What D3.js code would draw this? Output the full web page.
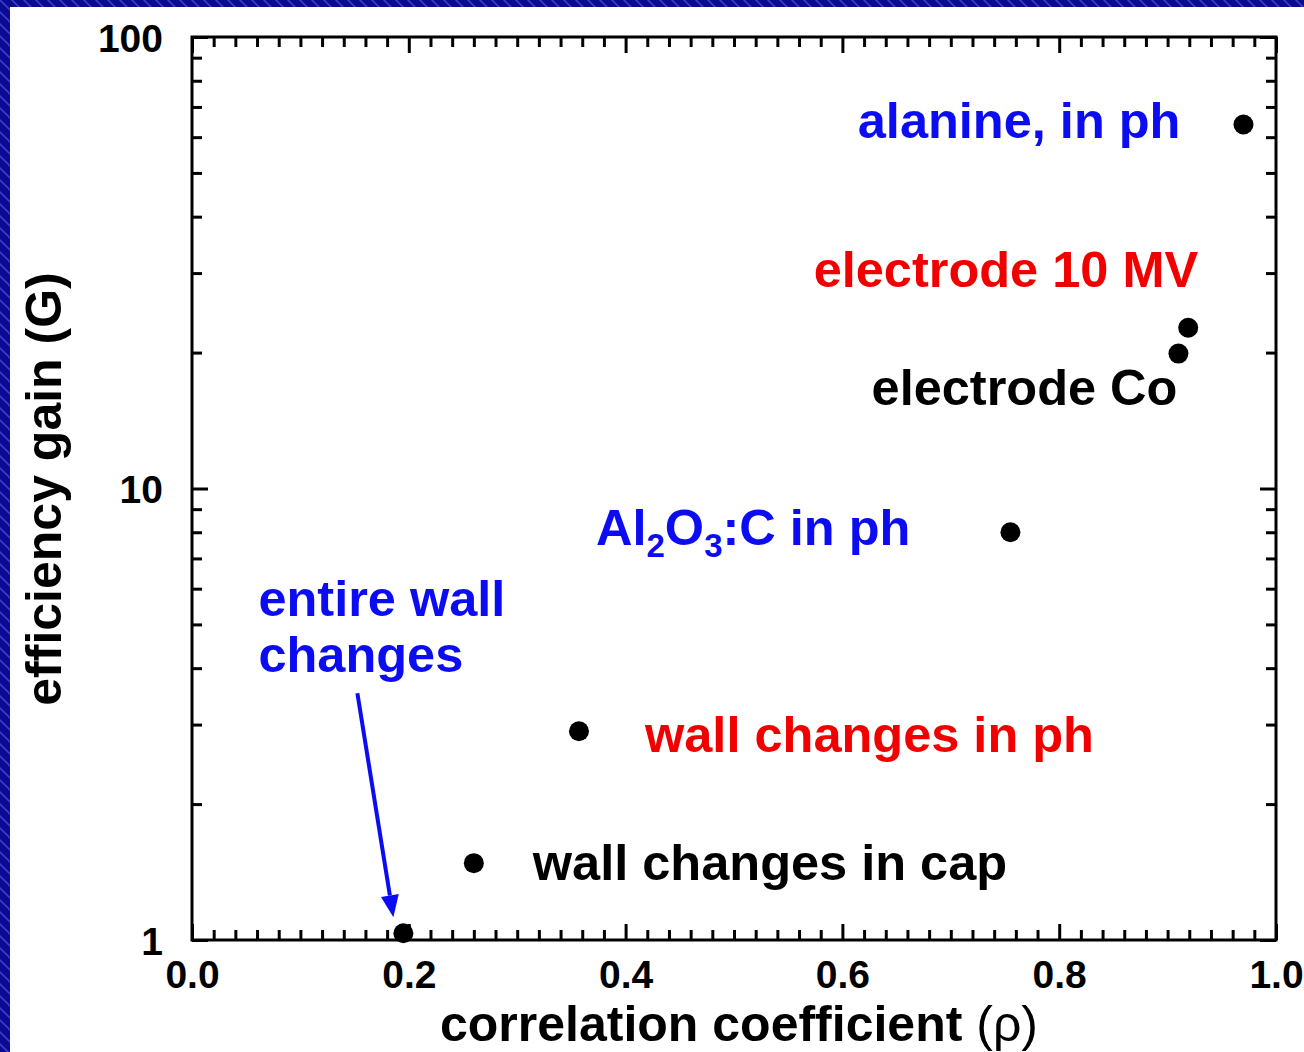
<!DOCTYPE html>
<html>
<head>
<meta charset="utf-8">
<script src="https://cdn.jsdelivr.net/npm/d3@7"></script>
<style>
  html, body { margin: 0; padding: 0; background: #fff; }
  svg { display: block; }
  text { font-family: "Liberation Sans", Arial, Helvetica, sans-serif; font-weight: bold; }
</style>
</head>
<body>
<svg id="chart" width="1304" height="1052"></svg>
<script>
// ---- data ----
const samples = [
  "alanine, in ph",
  "electrode 10 MV",
  "electrode Co",
  "Al2O3:C in ph",
  "wall changes in ph",
  "wall changes in cap",
  "entire wall changes"
];
const rho  = [0.970, 0.919, 0.910, 0.755, 0.357, 0.260, 0.195];
const gain = [64.0, 22.7, 19.9, 8.0, 2.90, 1.48, 1.035];

const xTicks      = [0.0, 0.2, 0.4, 0.6, 0.8, 1.0];
const xTickLabels = ["0.0", "0.2", "0.4", "0.6", "0.8", "1.0"];
const yTicks      = [1, 10, 100];
const yTickLabels = ["1", "10", "100"];

const xTitle = "correlation coefficient ";
const xTitleSymbol = "(ρ)";
const yTitle = "efficiency gain (G)";

// ---- annotation layout (offsets from each point, colours, text runs) ----
const BLUE = "#0c0cf2", RED = "#f20000", BLACK = "#000";
const notes = [
  { color: BLUE,  anchor: "end",   dx: -63,  dy: 13,  lines: [[{ t: "alanine, in ph" }]] },
  { color: RED,   anchor: "end",   dx: 10,   dy: -41, lines: [[{ t: "electrode 10 MV" }]] },
  { color: BLACK, anchor: "end",   dx: -1,   dy: 51,  lines: [[{ t: "electrode Co" }]] },
  { color: BLUE,  anchor: "end",   dx: -100, dy: 13,  lines: [[{ t: "Al" }, { t: "2", sub: true }, { t: "O" }, { t: "3", sub: true }, { t: ":C in ph" }]] },
  { color: RED,   anchor: "start", dx: 66,   dy: 21,  lines: [[{ t: "wall changes in ph" }]] },
  { color: BLACK, anchor: "start", dx: 59,   dy: 17,  lines: [[{ t: "wall changes in cap" }]] },
  { color: BLUE,  anchor: "start", dx: -145, dy: -317, lineGap: 56, lines: [[{ t: "entire wall" }], [{ t: "changes" }]],
    arrow: { from: [-46, -240], to: [-10, -16] } }
];

(function draw() {
  const W = 1304, H = 1052;
  const pLeft = 192, pRight = 1276, pTop = 37, pBottom = 940;

  const svg = d3.select("#chart");

  // hatched blue backdrop with the white page on top
  const defs = svg.append("defs");
  const pat = defs.append("pattern")
    .attr("id", "hatch").attr("patternUnits", "userSpaceOnUse")
    .attr("width", 12).attr("height", 12);
  pat.append("rect").attr("width", 12).attr("height", 12).attr("fill", "#0b0b92");
  pat.append("path")
    .attr("d", "M0,0 L12,12 M-3,9 L3,15 M9,-3 L15,3")
    .attr("stroke", "#3a3ad0").attr("stroke-width", 1.6);

  svg.append("rect").attr("width", W).attr("height", H).attr("fill", "url(#hatch)");
  svg.append("rect").attr("x", 10).attr("y", 7).attr("width", W - 10).attr("height", H - 7).attr("fill", "#fff");

  // ---- scales ----
  const x = d3.scaleLinear().domain([0, 1]).range([pLeft, pRight]);
  const y = d3.scaleLog().domain([1, 100]).range([pBottom, pTop]);

  const xMinor = d3.range(0, 51).map(i => +(i * 0.02).toFixed(2)).filter(v => !xTicks.includes(v));
  const yMinor = [2, 3, 4, 5, 6, 7, 8, 9, 20, 30, 40, 50, 60, 70, 80, 90];

  const MINOR = 10, MAJOR = 16;

  function styleAxis(g) {
    g.select(".domain").remove();
    g.selectAll(".tick line").attr("stroke", "#000").attr("stroke-width", 3);
  }
  function styleLabels(sel) {
    sel.attr("font-size", 39).attr("fill", "#000")
      .style("font-family", "'Liberation Sans', Arial, sans-serif").style("font-weight", "bold");
  }

  // bottom
  svg.append("g").attr("transform", `translate(0,${pBottom})`)
    .call(d3.axisBottom(x).tickValues(xMinor).tickSize(-MINOR).tickFormat(""))
    .call(styleAxis);
  const gxb = svg.append("g").attr("transform", `translate(0,${pBottom})`)
    .call(d3.axisBottom(x).tickValues(xTicks).tickSize(-MAJOR).tickFormat((d, i) => xTickLabels[i]))
    .call(styleAxis);
  gxb.selectAll(".tick text").attr("y", 48).attr("dy", 0).call(styleLabels);

  // top
  svg.append("g").attr("transform", `translate(0,${pTop})`)
    .call(d3.axisTop(x).tickValues(xMinor).tickSize(-MINOR).tickFormat(""))
    .call(styleAxis);
  svg.append("g").attr("transform", `translate(0,${pTop})`)
    .call(d3.axisTop(x).tickValues(xTicks).tickSize(-MAJOR).tickFormat(""))
    .call(styleAxis);

  // left
  svg.append("g").attr("transform", `translate(${pLeft},0)`)
    .call(d3.axisLeft(y).tickValues(yMinor).tickSize(-MINOR).tickFormat(""))
    .call(styleAxis);
  const gyl = svg.append("g").attr("transform", `translate(${pLeft},0)`)
    .call(d3.axisLeft(y).tickValues(yTicks).tickSize(-MAJOR).tickPadding(29).tickFormat((d, i) => yTickLabels[i]))
    .call(styleAxis);
  gyl.selectAll(".tick text").attr("dy", "0.36em").call(styleLabels);

  // right
  svg.append("g").attr("transform", `translate(${pRight},0)`)
    .call(d3.axisRight(y).tickValues(yMinor).tickSize(-MINOR).tickFormat(""))
    .call(styleAxis);
  svg.append("g").attr("transform", `translate(${pRight},0)`)
    .call(d3.axisRight(y).tickValues(yTicks).tickSize(-MAJOR).tickFormat(""))
    .call(styleAxis);

  // plot frame
  svg.append("rect")
    .attr("x", pLeft).attr("y", pTop)
    .attr("width", pRight - pLeft).attr("height", pBottom - pTop)
    .attr("fill", "none").attr("stroke", "#000").attr("stroke-width", 3);

  // ---- axis titles ----
  const xt = svg.append("text")
    .attr("x", (pLeft + pRight) / 2 + 5).attr("y", 1041)
    .attr("text-anchor", "middle").attr("font-size", 50).attr("fill", "#000");
  xt.append("tspan").text(xTitle);
  xt.append("tspan").style("font-weight", "normal").text(xTitleSymbol);

  svg.append("text")
    .attr("transform", `translate(61,489) rotate(-90)`)
    .attr("text-anchor", "middle").attr("font-size", 50).attr("fill", "#000")
    .text(yTitle);

  // ---- points ----
  const pts = samples.map((s, i) => ({ name: s, rho: rho[i], gain: gain[i], note: notes[i] }));

  svg.append("g").selectAll("circle")
    .data(pts).join("circle")
    .attr("cx", d => x(d.rho)).attr("cy", d => y(d.gain))
    .attr("r", 10).attr("fill", "#000");

  // ---- annotations ----
  pts.forEach(d => {
    const n = d.note;
    const px = x(d.rho), py = y(d.gain);
    n.lines.forEach((runs, li) => {
      const t = svg.append("text")
        .attr("x", px + n.dx).attr("y", py + n.dy + li * (n.lineGap || 0))
        .attr("text-anchor", n.anchor).attr("font-size", 50.5).attr("fill", n.color);
      let shifted = false;
      runs.forEach(r => {
        const ts = t.append("tspan").text(r.t);
        if (r.sub) { ts.attr("font-size", 33).attr("dy", 12); shifted = true; }
        else if (shifted) { ts.attr("dy", -12); shifted = false; }
      });
    });
    if (n.arrow) {
      const x0 = px + n.arrow.from[0], y0 = py + n.arrow.from[1];
      const x1 = px + n.arrow.to[0],   y1 = py + n.arrow.to[1];
      const ang = Math.atan2(y1 - y0, x1 - x0);
      const headLen = 22, headHalf = 9;
      const bx = x1 - headLen * Math.cos(ang), by = y1 - headLen * Math.sin(ang);
      svg.append("line")
        .attr("x1", x0).attr("y1", y0).attr("x2", bx).attr("y2", by)
        .attr("stroke", n.color).attr("stroke-width", 4);
      const nx = -Math.sin(ang), ny = Math.cos(ang);
      svg.append("path")
        .attr("d", `M${x1},${y1} L${bx + nx * headHalf},${by + ny * headHalf} L${bx - nx * headHalf},${by - ny * headHalf} Z`)
        .attr("fill", n.color);
    }
  });
})();
</script>
</body>
</html>
